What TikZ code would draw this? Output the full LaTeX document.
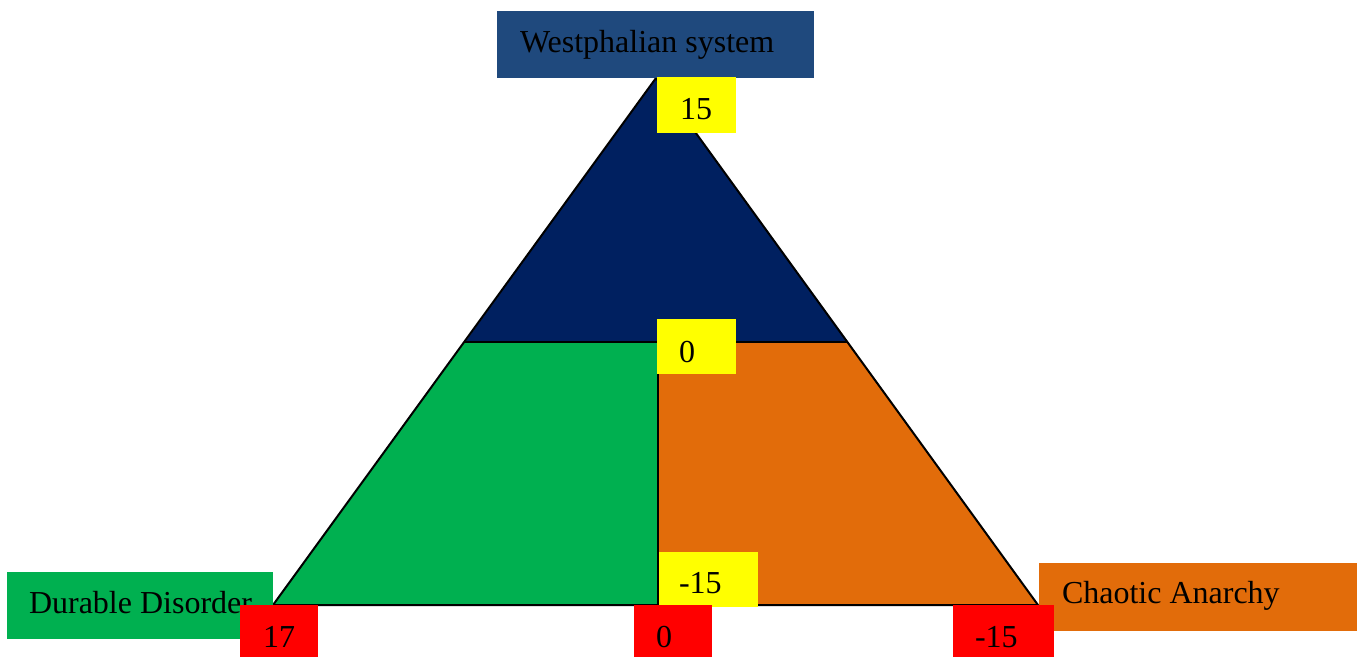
\documentclass[tikz,border=0pt]{standalone}
\usepackage{fontspec}
\setmainfont{Liberation Serif}
\definecolor{navytri}{HTML}{002060}
\definecolor{greenc}{HTML}{00B050}
\definecolor{orangec}{HTML}{E26C0A}
\definecolor{boxblue}{HTML}{1F497D}
\definecolor{yel}{HTML}{FFFF00}
\definecolor{redc}{HTML}{FF0000}
\tikzset{
  box/.style={inner sep=0pt, outer sep=0pt, anchor=north west, draw=none},
  lbl/.style={inner sep=0pt, outer sep=0pt, anchor=base west, font=\fontsize{32}{32}\selectfont},
  edgeline/.style={line width=2pt, line join=miter}
}
\begin{document}
\begin{tikzpicture}[x=1pt,y=-1pt]
\useasboundingbox (0,0) rectangle (1365,657);
% triangle geometry
\coordinate (apex) at (656,78);
\coordinate (bl) at (273,605);
\coordinate (br) at (1038,605);
\coordinate (ml) at (465,342);
\coordinate (mr) at (848,342);
\coordinate (mc) at (658,342);
\coordinate (bc) at (658,605);
\fill[navytri] (apex) -- (mr) -- (ml) -- cycle;
\fill[greenc] (ml) -- (mc) -- (bc) -- (bl) -- cycle;
\fill[orangec] (mc) -- (mr) -- (br) -- (bc) -- cycle;
\draw[edgeline] (apex) -- (br) -- (bl) -- cycle;
\draw[edgeline] (ml) -- (mr);
\draw[edgeline] (mc) -- (bc);
% title boxes
\node[box, fill=boxblue, minimum width=317pt, minimum height=67pt] (wbox) at (497,11) {};
\node[lbl] (wtext) at (520,52) {Westphalian system};
\node[box, fill=greenc, minimum width=266pt, minimum height=67pt] (dbox) at (7,572) {};
\node[lbl] (dtext) at (29,613) {Durable Disorder};
\node[box, fill=orangec, minimum width=318pt, minimum height=68pt] (cbox) at (1039,563) {};
\node[lbl] (ctext) at (1062,603) {Chaotic Anarchy};
% yellow value boxes
\node[box, fill=yel, minimum width=79pt, minimum height=56pt] (y15) at (657,77) {};
\node[lbl] (y15t) at (680,119) {15};
\node[box, fill=yel, minimum width=79pt, minimum height=55pt] (y0) at (657,319) {};
\node[lbl] (y0t) at (679,362) {0};
\node[box, fill=yel, minimum width=99pt, minimum height=55pt] (ym15) at (659,552) {};
\node[lbl] (ym15t) at (679,593) {-15};
% red value boxes
\node[box, fill=redc, minimum width=78pt, minimum height=52pt] (r17) at (240,605) {};
\node[lbl] (r17t) at (263,647) {17};
\node[box, fill=redc, minimum width=78pt, minimum height=52pt] (r0) at (634,605) {};
\node[lbl] (r0t) at (656,647) {0};
\node[box, fill=redc, minimum width=101pt, minimum height=52pt] (rm15) at (953,605) {};
\node[lbl] (rm15t) at (975,647) {-15};
\end{tikzpicture}
\end{document}
